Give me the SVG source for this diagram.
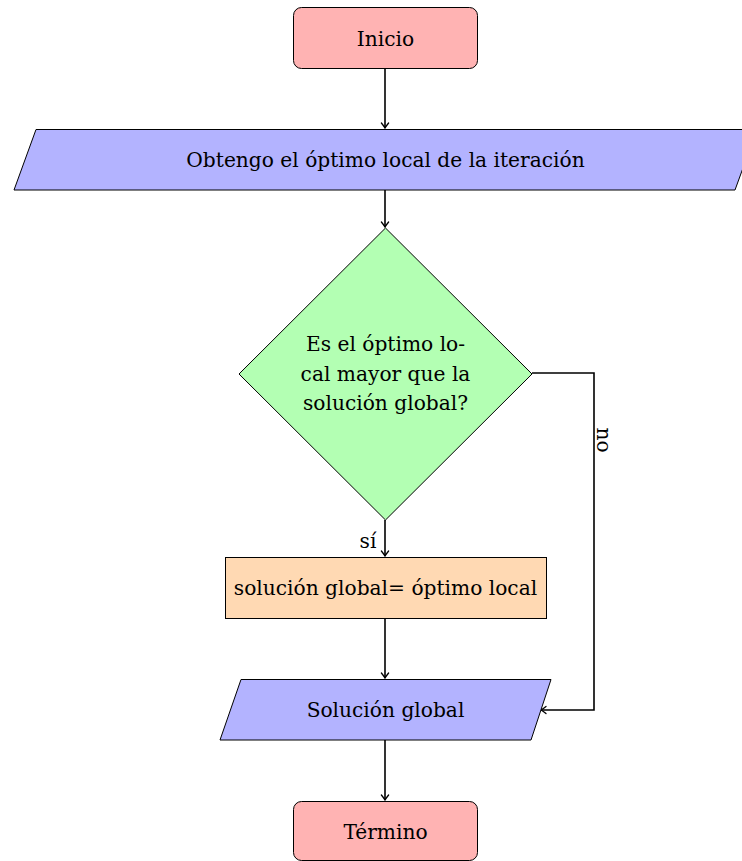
<svg xmlns="http://www.w3.org/2000/svg" width="742" height="861" viewBox="0 0 742 861">
  <style>
    .node { stroke: #000; stroke-width: 1; }
    .start { fill: #ffb3b3; }
    .io { fill: #b3b3ff; }
    .decision { fill: #b3ffb3; }
    .process { fill: #ffd9b3; }
    .label { font-family: "DejaVu Serif", "Liberation Serif", serif; font-size: 20.2px; fill: #000; text-anchor: middle; dominant-baseline: central; }
    .edge { fill: none; stroke: #000; stroke-width: 1.6; }
  </style>
  <defs>
    <marker id="arrow" viewBox="-6 -5 8 10" markerWidth="8" markerHeight="10" refX="0" refY="0" orient="auto" markerUnits="userSpaceOnUse">
      <path d="M -5 -3.6 Q -1.5 -0.8 0 0 Q -1.5 0.8 -5 3.6" fill="none" stroke="#000" stroke-width="1.3" stroke-linecap="round"/>
    </marker>
  </defs>

  <rect width="742" height="861" fill="#fff"/>

  <g id="connectors">
    <path class="edge" d="M 385 68 L 385 128" marker-end="url(#arrow)"/>
    <path class="edge" d="M 385 190 L 385 227" marker-end="url(#arrow)"/>
    <path class="edge" d="M 385 520 L 385 556" marker-end="url(#arrow)"/>
    <path class="edge" d="M 385 618 L 385 678" marker-end="url(#arrow)"/>
    <path class="edge" d="M 385 740 L 385 800" marker-end="url(#arrow)"/>
    <path class="edge" d="M 532 373 L 594 373 L 594 710 L 541 710" marker-end="url(#arrow)"/>
    <text class="label" x="368" y="541">sí</text>
    <text class="label" transform="translate(604 440) rotate(90)">no</text>
  </g>

  <g id="inicio">
    <rect class="node start" x="293.5" y="7.5" width="184" height="61" rx="8"/>
    <text class="label" x="385.5" y="39">Inicio</text>
  </g>

  <g id="optimo-local">
    <polygon class="node io" points="36,129.5 757,129.5 735,190 14,190"/>
    <text class="label" x="385.5" y="160">Obtengo el óptimo local de la iteración</text>
  </g>

  <g id="comparacion">
    <polygon class="node decision" points="385.5,228 532,374 385.5,520 239,374"/>
    <text class="label" x="385.5" y="344">Es el óptimo lo-</text>
    <text class="label" x="385.5" y="374">cal mayor que la</text>
    <text class="label" x="385.5" y="403">solución global?</text>
  </g>

  <g id="actualizar">
    <rect class="node process" x="225.5" y="557.5" width="321" height="61"/>
    <text class="label" x="385.5" y="588">solución global= óptimo local</text>
  </g>

  <g id="solucion-global">
    <polygon class="node io" points="241,679.5 551,679.5 531,740 220,740"/>
    <text class="label" x="385.5" y="710">Solución global</text>
  </g>

  <g id="termino">
    <rect class="node start" x="293.5" y="801.5" width="184" height="59" rx="8"/>
    <text class="label" x="385.5" y="832">Término</text>
  </g>
</svg>
